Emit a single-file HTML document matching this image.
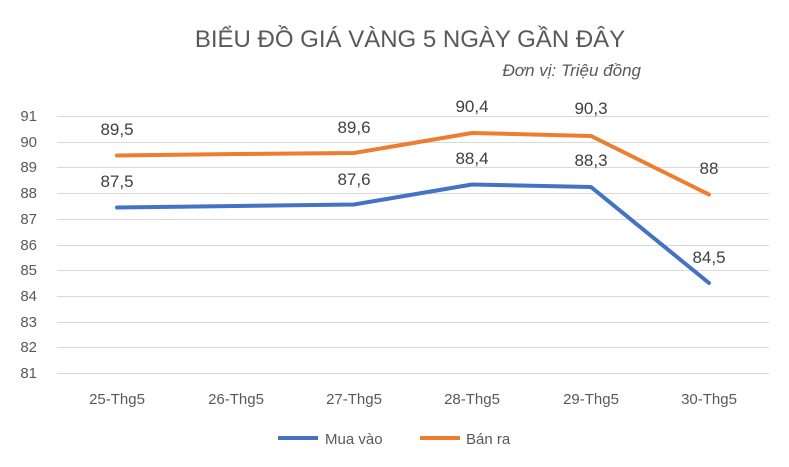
<!DOCTYPE html>
<html><head><meta charset="utf-8"><style>
body{margin:0;background:#fff}
svg{display:block;font-family:"Liberation Sans","DejaVu Sans",sans-serif}
</style></head><body>
<svg width="789" height="467" viewBox="0 0 789 467">
<rect width="789" height="467" fill="#fff"/>
<text x="410" y="47" text-anchor="middle" font-size="24" fill="#595959">BIỂU ĐỒ GIÁ VÀNG 5 NGÀY GẦN ĐÂY</text>
<text x="641" y="76" text-anchor="end" font-size="17" font-style="italic" fill="#595959">Đơn vị: Triệu đồng</text>
<g stroke="#d9d9d9" stroke-width="1">
<line x1="57" x2="769" y1="116.5" y2="116.5"/>
<line x1="57" x2="769" y1="142.5" y2="142.5"/>
<line x1="57" x2="769" y1="167.5" y2="167.5"/>
<line x1="57" x2="769" y1="193.5" y2="193.5"/>
<line x1="57" x2="769" y1="219.5" y2="219.5"/>
<line x1="57" x2="769" y1="245.5" y2="245.5"/>
<line x1="57" x2="769" y1="270.5" y2="270.5"/>
<line x1="57" x2="769" y1="296.5" y2="296.5"/>
<line x1="57" x2="769" y1="322.5" y2="322.5"/>
<line x1="57" x2="769" y1="347.5" y2="347.5"/>
<line x1="57" x2="769" y1="373.5" y2="373.5"/>
</g>
<g font-size="15" fill="#595959" text-anchor="end">
<text x="37" y="121">91</text><text x="37" y="147">90</text><text x="37" y="172">89</text>
<text x="37" y="198">88</text><text x="37" y="224">87</text><text x="37" y="250">86</text>
<text x="37" y="275">85</text><text x="37" y="301">84</text><text x="37" y="327">83</text>
<text x="37" y="352">82</text><text x="37" y="378">81</text>
</g>
<g font-size="15" fill="#595959" text-anchor="middle">
<text x="117" y="404">25-Thg5</text><text x="236" y="404">26-Thg5</text><text x="354" y="404">27-Thg5</text>
<text x="472" y="404">28-Thg5</text><text x="591" y="404">29-Thg5</text><text x="709" y="404">30-Thg5</text>
</g>
<polyline fill="none" stroke="#ed7d31" stroke-width="4" stroke-linejoin="round" stroke-linecap="round" points="117,155.5 236,154 354,153 472,133 591,136 709,194.5"/>
<polyline fill="none" stroke="#4472c4" stroke-width="4" stroke-linejoin="round" stroke-linecap="round" points="117,207.5 236,206 354,204.5 472,184.5 591,187 709,283"/>
<g font-size="17" fill="#404040" text-anchor="middle">
<text x="117" y="135">89,5</text><text x="354" y="133">89,6</text><text x="472" y="112">90,4</text>
<text x="591" y="114">90,3</text><text x="709" y="174">88</text>
<text x="117" y="187">87,5</text><text x="354" y="185">87,6</text><text x="472" y="164">88,4</text>
<text x="591" y="166">88,3</text><text x="709" y="263">84,5</text>
</g>
<line x1="278" x2="318" y1="438" y2="438" stroke="#4472c4" stroke-width="4"/>
<text x="325" y="444" font-size="15" fill="#595959">Mua vào</text>
<line x1="420" x2="460" y1="438" y2="438" stroke="#ed7d31" stroke-width="4"/>
<text x="466" y="444" font-size="15" fill="#595959">Bán ra</text>
</svg>
</body></html>
